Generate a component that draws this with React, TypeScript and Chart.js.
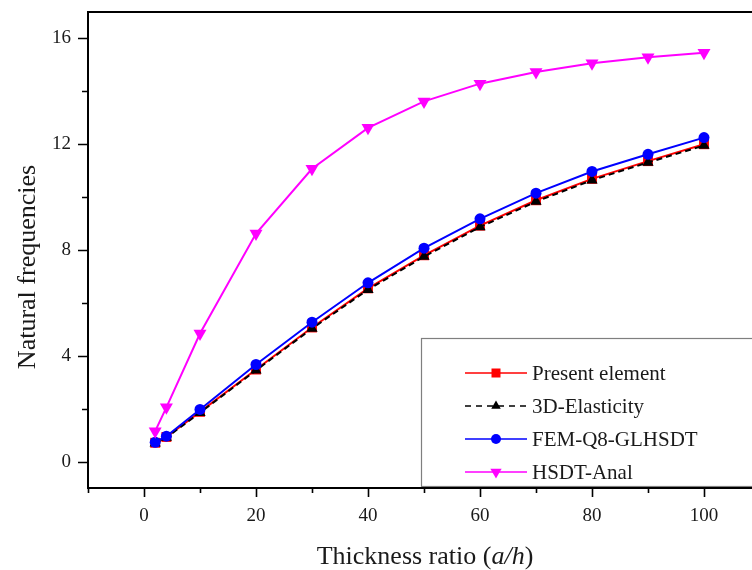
import React, { useEffect, useRef } from "react";
import { Chart, registerables } from "chart.js";

Chart.register(...registerables);

const thicknessRatios = [2, 4, 10, 20, 30, 40, 50, 60, 70, 80, 90, 100];
const presentElement = [0.71, 0.93, 1.88, 3.48, 5.07, 6.55, 7.8, 8.92, 9.88, 10.69, 11.36, 12.0];
const elasticity3D = [0.69, 0.91, 1.85, 3.45, 5.03, 6.5, 7.75, 8.87, 9.83, 10.64, 11.31, 11.95];
const femQ8GLHSDT = [0.73, 0.96, 1.97, 3.67, 5.27, 6.76, 8.07, 9.18, 10.15, 10.97, 11.62, 12.25];
const hsdtAnal = [1.15, 2.05, 4.84, 8.62, 11.07, 12.62, 13.62, 14.29, 14.73, 15.06, 15.29, 15.46];

const xMajorTicks = [0, 20, 40, 60, 80, 100];
const xMinorTicks = [-10, 10, 30, 50, 70, 90, 110];
const yMajorTicks = [0, 4, 8, 12, 16];
const yMinorTicks = [2, 6, 10, 14];

const seriesLabels = ["Present element", "3D-Elasticity", "FEM-Q8-GLHSDT", "HSDT-Anal"];
const seriesColors = ["#ff0000", "#000000", "#0000ff", "#ff00ff"];

const SERIF = "'Liberation Serif', 'Times New Roman', serif";

const axesPlugin = {
  id: "axesPlugin",
  afterDraw(chart: any) {
    const { ctx, chartArea } = chart;
    const xs = chart.scales.x;
    const ys = chart.scales.y;
    const { left, right, top, bottom } = chartArea;
    ctx.save();
    ctx.strokeStyle = "#000";
    ctx.lineWidth = 2;
    ctx.beginPath();
    ctx.moveTo(left, top);
    ctx.lineTo(left, bottom);
    ctx.lineTo(right, bottom);
    ctx.moveTo(left - 1, top);
    ctx.lineTo(right, top);
    ctx.stroke();
    ctx.lineWidth = 1.6;
    ctx.beginPath();
    xMajorTicks.forEach((v) => {
      const px = Math.round(xs.getPixelForValue(v)) + 0.5;
      ctx.moveTo(px, bottom);
      ctx.lineTo(px, bottom + 9);
    });
    xMinorTicks.forEach((v) => {
      const px = Math.round(xs.getPixelForValue(v)) + 0.5;
      ctx.moveTo(px, bottom);
      ctx.lineTo(px, bottom + 5);
    });
    yMajorTicks.forEach((v) => {
      const py = Math.round(ys.getPixelForValue(v)) + 0.5;
      ctx.moveTo(left, py);
      ctx.lineTo(left - 10, py);
    });
    yMinorTicks.forEach((v) => {
      const py = Math.round(ys.getPixelForValue(v)) + 0.5;
      ctx.moveTo(left, py);
      ctx.lineTo(left - 6, py);
    });
    ctx.stroke();

    // axis titles
    ctx.fillStyle = "#1a1a1a";
    ctx.font = `26px ${SERIF}`;
    ctx.textBaseline = "alphabetic";
    ctx.save();
    ctx.translate(35, 267);
    ctx.rotate(-Math.PI / 2);
    ctx.textAlign = "center";
    ctx.fillText("Natural frequencies", 0, 0);
    ctx.restore();
    const p1 = "Thickness ratio (";
    const p2 = "a/h";
    const p3 = ")";
    ctx.font = `26px ${SERIF}`;
    const w1 = ctx.measureText(p1).width;
    const w3 = ctx.measureText(p3).width;
    ctx.font = `italic 26px ${SERIF}`;
    const w2 = ctx.measureText(p2).width;
    const total = w1 + w2 + w3;
    const x0 = 425 - total / 2;
    const yb = 564;
    ctx.textAlign = "left";
    ctx.font = `26px ${SERIF}`;
    ctx.fillText(p1, x0, yb);
    ctx.font = `italic 26px ${SERIF}`;
    ctx.fillText(p2, x0 + w1, yb);
    ctx.font = `26px ${SERIF}`;
    ctx.fillText(p3, x0 + w1 + w2, yb);
    ctx.restore();
  },
};

const legendPlugin = {
  id: "customLegend",
  afterDatasetsDraw(chart: any) {
    const { ctx } = chart;
    ctx.save();
    const bx = 421.5;
    const by = 338.5;
    const bw = 400;
    const bh = 148;
    ctx.fillStyle = "#ffffff";
    ctx.fillRect(bx, by, bw, bh);
    ctx.strokeStyle = "#7f7f7f";
    ctx.lineWidth = 1.2;
    ctx.strokeRect(bx, by, bw, bh);
    const rows = [373, 406, 439, 472];
    const lx1 = 465;
    const lx2 = 527;
    const mx = 496;
    seriesLabels.forEach((label, i) => {
      const y = rows[i];
      const color = seriesColors[i];
      ctx.strokeStyle = color;
      ctx.fillStyle = color;
      ctx.lineWidth = 1.6;
      ctx.setLineDash(i === 1 ? [6, 5] : []);
      ctx.beginPath();
      ctx.moveTo(lx1, y);
      ctx.lineTo(lx2, y);
      ctx.stroke();
      ctx.setLineDash([]);
      ctx.beginPath();
      if (i === 0) {
        ctx.rect(mx - 4.5, y - 4.5, 9, 9);
      } else if (i === 1) {
        const r = 5.5;
        ctx.moveTo(mx, y - r);
        ctx.lineTo(mx + r * 0.866, y + r * 0.5);
        ctx.lineTo(mx - r * 0.866, y + r * 0.5);
        ctx.closePath();
      } else if (i === 2) {
        ctx.arc(mx, y, 5, 0, Math.PI * 2);
      } else {
        const r = 6.5;
        ctx.moveTo(mx, y + r);
        ctx.lineTo(mx + r * 0.866, y - r * 0.5);
        ctx.lineTo(mx - r * 0.866, y - r * 0.5);
        ctx.closePath();
      }
      ctx.fill();
      ctx.fillStyle = "#1a1a1a";
      ctx.font = `21px ${SERIF}`;
      ctx.textAlign = "left";
      ctx.textBaseline = "middle";
      ctx.fillText(label, 532, y + 1);
    });
    ctx.restore();
  },
};

export default function App() {
  const canvasRef = useRef<HTMLCanvasElement | null>(null);

  useEffect(() => {
    if (!canvasRef.current) return;
    const toPoints = (arr: number[]) => thicknessRatios.map((x, i) => ({ x, y: arr[i] }));
    const chart = new Chart(canvasRef.current, {
      type: "line",
      data: {
        datasets: [
          {
            label: seriesLabels[0],
            data: toPoints(presentElement),
            borderColor: seriesColors[0],
            backgroundColor: seriesColors[0],
            borderWidth: 2,
            pointStyle: "rect",
            pointRadius: 7,
            pointBorderWidth: 0,
            order: 4,
          },
          {
            label: seriesLabels[1],
            data: toPoints(elasticity3D),
            borderColor: seriesColors[1],
            backgroundColor: seriesColors[1],
            borderWidth: 2,
            borderDash: [6, 4],
            pointStyle: "triangle",
            pointRadius: 6.5,
            pointBorderWidth: 0,
            order: 3,
          },
          {
            label: seriesLabels[2],
            data: toPoints(femQ8GLHSDT),
            borderColor: seriesColors[2],
            backgroundColor: seriesColors[2],
            borderWidth: 2,
            pointStyle: "circle",
            pointRadius: 5.5,
            pointBorderWidth: 0,
            order: 2,
          },
          {
            label: seriesLabels[3],
            data: toPoints(hsdtAnal),
            borderColor: seriesColors[3],
            backgroundColor: seriesColors[3],
            borderWidth: 2,
            pointStyle: "triangle",
            rotation: 180,
            pointRadius: 7.5,
            pointBorderWidth: 0,
            order: 1,
          } as any,
        ],
      },
      options: {
        responsive: false,
        animation: false,
        devicePixelRatio: 1,
        layout: { padding: { left: 0, top: 12, right: 10, bottom: 0 } },
        plugins: {
          legend: { display: false },
          tooltip: { enabled: false },
        },
        elements: { line: { tension: 0 } },
        scales: {
          x: {
            type: "linear",
            min: -10,
            max: 110,
            grid: { display: false, drawTicks: false },
            border: { display: false },
            afterBuildTicks: (s: any) => {
              s.ticks = xMajorTicks.map((v) => ({ value: v }));
            },
            afterFit: (s: any) => {
              s.height = 82;
              s.paddingLeft = 0;
              s.paddingRight = 0;
            },
            ticks: {
              color: "#1a1a1a",
              font: { family: SERIF, size: 19 },
              padding: 17,
              maxRotation: 0,
              autoSkip: false,
            },
          },
          y: {
            type: "linear",
            min: -1,
            max: 17,
            grid: { display: false, drawTicks: false },
            border: { display: false },
            afterBuildTicks: (s: any) => {
              s.ticks = yMajorTicks.map((v) => ({ value: v }));
            },
            afterFit: (s: any) => {
              s.width = 88;
              s.paddingTop = 0;
              s.paddingBottom = 0;
            },
            ticks: {
              color: "#1a1a1a",
              font: { family: SERIF, size: 19 },
              padding: 17,
              autoSkip: false,
            },
          },
        },
      } as any,
      plugins: [legendPlugin, axesPlugin],
    });
    return () => chart.destroy();
  }, []);

  return (
    <div
      style={{
        position: "fixed",
        left: 0,
        top: 0,
        width: 752,
        height: 570,
        overflow: "hidden",
        background: "#fff",
      }}
    >
      <canvas ref={canvasRef} width={770} height={570} style={{ display: "block" }} />
    </div>
  );
}
